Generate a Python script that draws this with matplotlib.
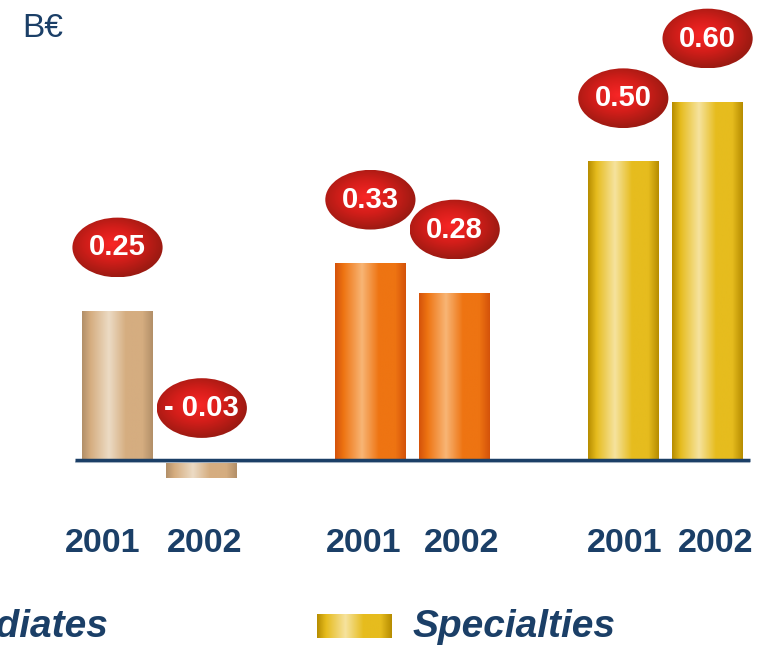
import numpy as np
import matplotlib
matplotlib.use("Agg")
import matplotlib.pyplot as plt
from matplotlib.colors import LinearSegmentedColormap
from matplotlib.patches import Ellipse

# results in billions of euros, two years per business segment
years = ["2001", "2002"]
intermediates = [0.25, -0.03]
performance = [0.33, 0.28]
specialties = [0.50, 0.60]
legend_labels = ["Intermediates", "Specialties"]

NAVY = "#1B3F67"
plt.rcParams["font.family"] = ["Liberation Sans", "DejaVu Sans"]


def cylinder_cmap(dark, mid, light):
    stops = [(0.0, dark), (0.12, mid), (0.38, light), (0.62, mid), (0.85, mid), (1.0, dark)]
    return LinearSegmentedColormap.from_list("cyl", stops)


tan_cmap = cylinder_cmap("#B28F68", "#D5AD80", "#ECDBC4")
orange_cmap = cylinder_cmap("#D4520A", "#EE7412", "#F8B575")
gold_cmap = cylinder_cmap("#B68C00", "#E6BC1E", "#F6E39E")
bubble_cmap = LinearSegmentedColormap.from_list("bubble", ["#F82626", "#D41E1A", "#9C1A12"])

groups = [(intermediates, tan_cmap), (performance, orange_cmap), (specialties, gold_cmap)]
# year labels sit a little off the bar centres
label_shift = [-0.18, 0.03, -0.08, 0.08, 0.02, 0.1]

fig = plt.figure(figsize=(7.73, 6.46), dpi=100)
ax = fig.add_axes([0, 126.3 / 646, 1, 519.4 / 646])

grad = np.linspace(0, 1, 256).reshape(1, -1)
yy, xx = np.mgrid[-1:1:200j, -1:1:200j]
radial = np.clip(np.sqrt((xx + 0.1) ** 2 + (yy + 0.1) ** 2) / 1.1, 0, 1)

positions, tick_labels = [], []
for g, (vals, cmap) in enumerate(groups):
    xs = [3 * g + i for i in range(len(vals))]
    bars = ax.bar(xs, vals, width=0.84, color="none", zorder=2)
    for x, v, bar in zip(xs, vals, bars):
        x0 = bar.get_x()
        im = ax.imshow(grad, cmap=cmap, aspect="auto", zorder=2,
                       extent=(x0, x0 + bar.get_width(), min(v, 0), max(v, 0)))
        im.set_clip_path(bar)

        # red value bubble above each bar
        cy = v + 0.106 if v >= 0 else 0.087
        w, h = 1.07, 0.1
        ell = Ellipse((x, cy), w, h, facecolor="none", edgecolor="none")
        ax.add_patch(ell)
        bim = ax.imshow(radial, cmap=bubble_cmap, aspect="auto", zorder=3,
                        extent=(x - w / 2, x + w / 2, cy - h / 2, cy + h / 2))
        bim.set_clip_path(ell)
        txt = f"{v:.2f}" if v >= 0 else f"- {abs(v):.2f}"
        ax.text(x, cy, txt, ha="center", va="center", color="white",
                fontsize=21, fontweight="bold", zorder=4)
        positions.append(x)
    tick_labels += years

ax.plot([-0.5, 7.5], [0, 0], color=NAVY, lw=2.5, zorder=5, solid_capstyle="butt")
ax.plot([-0.5, 7.5], [-0.004, -0.004], color="#C9D1DA", lw=1.5, zorder=4,
        solid_capstyle="butt")

ax.set_xlim(-1.394, 7.776)
ax.set_ylim(-0.1, 0.77)
ax.set_xticks([p + s for p, s in zip(positions, label_shift)])
ax.set_xticklabels(tick_labels, fontsize=24.5, fontweight="bold", color=NAVY)
ax.tick_params(axis="x", length=0, pad=6)
ax.set_yticks([])
for s in ax.spines.values():
    s.set_visible(False)
ax.patch.set_alpha(0)

fig.text(22 / 773, 1 - 13 / 646, "B€", fontsize=24, color=NAVY, ha="left", va="top")

# legend row along the bottom
fig.text(108 / 773, 1 - 637 / 646, legend_labels[0], fontsize=28, fontweight="bold",
         style="italic", color=NAVY, ha="right", va="baseline")
sw = fig.add_axes([317 / 773, 1 - 638 / 646, 75 / 773, 24 / 646])
sw.imshow(grad, cmap=gold_cmap, aspect="auto")
sw.axis("off")
fig.text(413 / 773, 1 - 637 / 646, legend_labels[1], fontsize=28, fontweight="bold",
         style="italic", color=NAVY, ha="left", va="baseline")

fig.savefig("out.png", dpi=100)
